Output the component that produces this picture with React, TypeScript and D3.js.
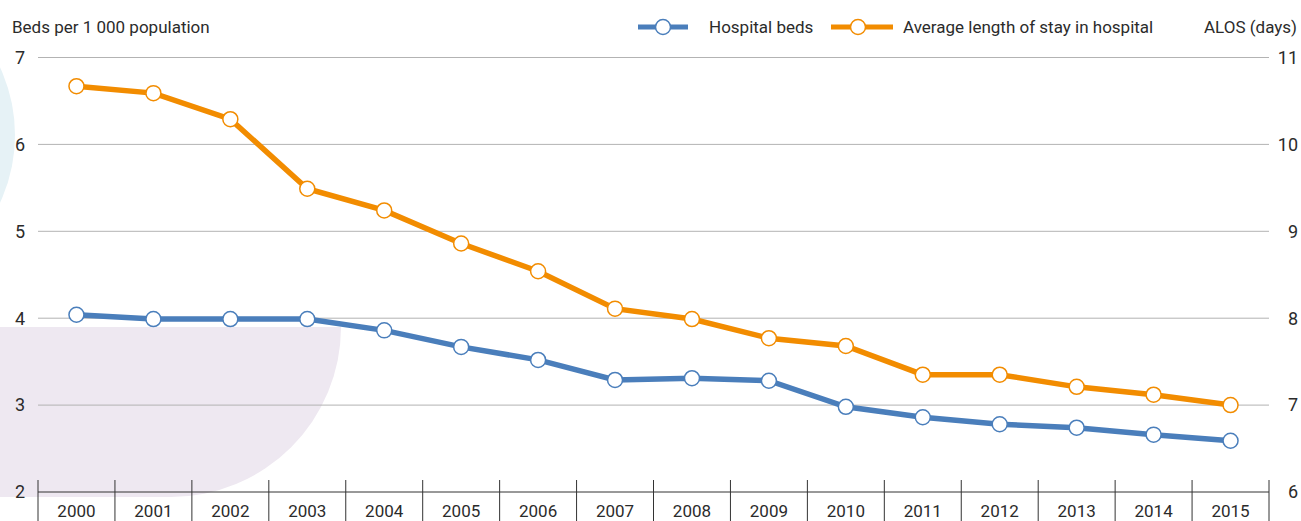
import React from "react";
import * as d3 from "d3";

const years = ["2000","2001","2002","2003","2004","2005","2006","2007","2008","2009","2010","2011","2012","2013","2014","2015"];
const hospitalBeds = [4.04,3.99,3.99,3.99,3.86,3.67,3.52,3.29,3.31,3.28,2.98,2.86,2.78,2.74,2.66,2.59];
const alos = [10.67,10.59,10.29,9.49,9.24,8.86,8.54,8.11,7.99,7.77,7.68,7.35,7.35,7.21,7.12,7.0];
const leftTicks = [2,3,4,5,6,7];
const rightTicks = [6,7,8,9,10,11];
const seriesNames = ["Hospital beds", "Average length of stay in hospital"];

const W = 1301, H = 521;
const x0 = 38, x1 = 1269, yTop = 57.5, yBot = 492;
const BLUE = "#4a7ebb";
const ORANGE = "#f28c00";
const TEXT = "#2b2b2b";
const FONT = "Roboto, 'Noto Sans', sans-serif";

export default function App() {
  const x = d3.scaleBand<string>().domain(years).range([x0, x1]);
  const yL = d3.scaleLinear().domain([2, 7]).range([yBot, yTop]);
  const yR = d3.scaleLinear().domain([6, 11]).range([yBot, yTop]);
  const cx = (y: string) => (x(y) as number) + x.bandwidth() / 2;
  const lineL = d3.line<number>().x((_, i) => cx(years[i])).y((d) => yL(d));
  const lineR = d3.line<number>().x((_, i) => cx(years[i])).y((d) => yR(d));
  const bounds = years.map((y) => x(y) as number).concat([x1]);

  return (
    <svg width={W} height={H} style={{ position: "absolute", left: 0, top: 0, display: "block" }} fontFamily={FONT}>
      <rect width={W} height={H} fill="#fff" />
      <circle cx={-146} cy={135} r={161} fill="#e6f2f6" />
      <path d="M0,327 L341,327 A170,170 0 0 1 171,497 L0,497 Z" fill="#eee8f1" />

      {leftTicks.filter((t) => t !== 2).map((t) => (
        <line key={t} x1={x0} x2={x1} y1={yL(t)} y2={yL(t)} stroke="#b3b3b3" strokeWidth={1} />
      ))}
      {leftTicks.map((t) => (
        <text key={"l" + t} x={25} y={yL(t)} dy="0.35em" textAnchor="end" fontSize={18} fill={TEXT}>{t}</text>
      ))}
      {rightTicks.map((t) => (
        <text key={"r" + t} x={1298} y={yR(t)} dy="0.35em" textAnchor="end" fontSize={18} fill={TEXT}>{t}</text>
      ))}

      <line x1={x0} x2={x1} y1={yBot} y2={yBot} stroke="#333" strokeWidth={1} />
      {bounds.map((b, i) => (
        <line key={"tk" + i} x1={b} x2={b} y1={480} y2={H} stroke="#333" strokeWidth={1} />
      ))}
      {years.map((y) => (
        <text key={"x" + y} x={cx(y)} y={517} textAnchor="middle" fontSize={17} fill={TEXT}>{y}</text>
      ))}

      <path d={lineL(hospitalBeds) || ""} fill="none" stroke={BLUE} strokeWidth={5.5} />
      <path d={lineR(alos) || ""} fill="none" stroke={ORANGE} strokeWidth={5.5} />
      {hospitalBeds.map((v, i) => (
        <circle key={"b" + i} cx={cx(years[i])} cy={yL(v)} r={7.5} fill="#fff" stroke={BLUE} strokeWidth={1.5} />
      ))}
      {alos.map((v, i) => (
        <circle key={"a" + i} cx={cx(years[i])} cy={yR(v)} r={7.5} fill="#fff" stroke={ORANGE} strokeWidth={1.5} />
      ))}

      <text x={12} y={33} fontSize={17} fill={TEXT}>Beds per 1 000 population</text>
      <text x={1297} y={33} fontSize={17} fill={TEXT} textAnchor="end">ALOS (days)</text>

      <line x1={638} x2={688} y1={27} y2={27} stroke={BLUE} strokeWidth={5} />
      <circle cx={663} cy={27} r={7.5} fill="#fff" stroke={BLUE} strokeWidth={1.5} />
      <text x={709} y={33} fontSize={17} fill={TEXT}>{seriesNames[0]}</text>
      <line x1={831} x2={893} y1={27} y2={27} stroke={ORANGE} strokeWidth={5} />
      <circle cx={858} cy={27} r={7.5} fill="#fff" stroke={ORANGE} strokeWidth={1.5} />
      <text x={903} y={33} fontSize={17} fill={TEXT}>{seriesNames[1]}</text>
    </svg>
  );
}
